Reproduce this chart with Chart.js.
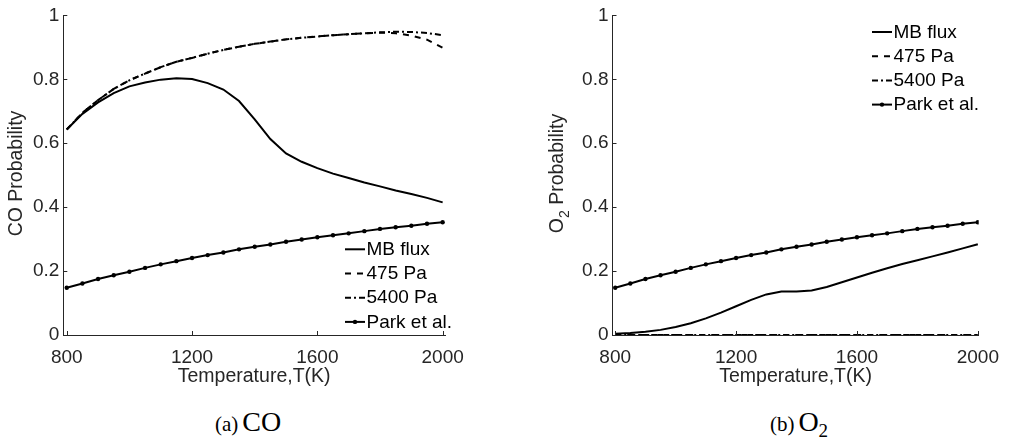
<!DOCTYPE html>
<html>
<head>
<meta charset="utf-8">
<script src="https://cdn.jsdelivr.net/npm/chart.js@4.4.1/dist/chart.umd.min.js"></script>
<style>
  html, body { margin: 0; padding: 0; background: #fff; }
  #wrap { position: relative; width: 1010px; height: 438px; overflow: hidden; }
  .panel { position: absolute; top: 0; width: 505px; height: 395px; }
  .cap { position: absolute; top: 408px; font-family: "Liberation Serif", "DejaVu Serif", serif; color: #000; white-space: nowrap; transform: translateX(-50%); line-height: 1; }
  .cap .lbl { font-size: 21px; }
  .cap .sp { font-size: 28px; }
  .cap sub { font-size: 19px; vertical-align: -6px; line-height: 0; }
</style>
</head>
<body>
<div id="wrap">
  <div class="panel" style="left:0"><canvas id="coChart" width="505" height="395"></canvas></div>
  <div class="panel" style="left:505px"><canvas id="o2Chart" width="505" height="395"></canvas></div>
  <div class="cap" style="left:248px"><span class="lbl">(a)</span> <span class="sp">CO</span></div>
  <div class="cap" style="left:799px"><span class="lbl">(b)</span> <span class="sp">O<sub>2</sub></span></div>
</div>
<script>
// Temperature grid (K)
const temperatureK = [800, 850, 900, 950, 1000, 1050, 1100, 1150, 1200, 1250, 1300, 1350, 1400,
                      1450, 1500, 1550, 1600, 1650, 1700, 1750, 1800, 1850, 1900, 1950, 2000];

// CO reaction probability
const coMBFlux  = [0.643, 0.692, 0.728, 0.757, 0.778, 0.790, 0.799, 0.803, 0.801, 0.788, 0.768, 0.732, 0.675,
                   0.613, 0.568, 0.542, 0.522, 0.505, 0.491, 0.477, 0.465, 0.452, 0.441, 0.429, 0.415];
const co475Pa   = [0.643, 0.695, 0.735, 0.770, 0.797, 0.818, 0.838, 0.855, 0.867, 0.880, 0.892, 0.902, 0.911,
                   0.918, 0.925, 0.930, 0.934, 0.938, 0.941, 0.944, 0.946, 0.944, 0.937, 0.924, 0.899];
const co5400Pa  = [0.643, 0.695, 0.735, 0.770, 0.797, 0.818, 0.838, 0.855, 0.867, 0.880, 0.892, 0.902, 0.911,
                   0.918, 0.925, 0.930, 0.934, 0.938, 0.941, 0.944, 0.947, 0.949, 0.948, 0.945, 0.938];

// Park et al. correlation (same in both panels)
const parkEtAl  = [0.148, 0.161, 0.175, 0.187, 0.198, 0.210, 0.221, 0.231, 0.241, 0.250, 0.258, 0.268, 0.276,
                   0.283, 0.292, 0.299, 0.306, 0.312, 0.318, 0.325, 0.332, 0.337, 0.342, 0.348, 0.353];

// O2 reaction probability
const o2MBFlux  = [0.004, 0.006, 0.010, 0.016, 0.025, 0.037, 0.052, 0.070, 0.090, 0.110, 0.127, 0.136, 0.136,
                   0.139, 0.150, 0.165, 0.180, 0.195, 0.209, 0.222, 0.234, 0.246, 0.258, 0.271, 0.284];
const o2475Pa   = [0, 0, 0, 0, 0, 0, 0, 0, 0, 0, 0, 0, 0, 0, 0, 0, 0, 0, 0, 0, 0, 0, 0, 0, 0];
const o25400Pa  = [0, 0, 0, 0, 0, 0, 0, 0, 0, 0, 0, 0, 0, 0, 0, 0, 0, 0, 0, 0, 0, 0, 0, 0, 0];

// Axis ticks
const xTickValues = [800, 1200, 1600, 2000];
const yTickValues = [0, 0.2, 0.4, 0.6, 0.8, 1];
const yTickLabels = ['0', '0.2', '0.4', '0.6', '0.8', '1'];

const SANS = '"Liberation Sans", Arial, Helvetica, sans-serif';
const AXIS_COLOR = '#262626';

function points(values) {
  return temperatureK.map((t, i) => ({ x: t, y: values[i] }));
}

function seriesSet(mb, p475, p5400) {
  return [
    { label: 'MB flux', data: points(mb), borderColor: '#000', borderWidth: 2, borderDash: [], pointRadius: 0 },
    { label: '475 Pa', data: points(p475), borderColor: '#000', borderWidth: 2, borderDash: [6, 6], pointRadius: 0 },
    { label: '5400 Pa', data: points(p5400), borderColor: '#000', borderWidth: 2, borderDash: [6, 3, 2, 3], pointRadius: 0 },
    { label: 'Park et al.', data: points(parkEtAl), borderColor: '#000', borderWidth: 2, borderDash: [],
      pointRadius: 2.2, pointBorderWidth: 0, pointBackgroundColor: '#000', pointHoverRadius: 2.2 }
  ];
}

// MATLAB-style tick marks pointing into the plot area
const inwardTicks = {
  id: 'inwardTicks',
  afterDatasetsDraw(chart, args, opts) {
    const { ctx, chartArea: a, scales: { x, y } } = chart;
    ctx.save();
    ctx.strokeStyle = AXIS_COLOR;
    ctx.lineWidth = 1;
    ctx.beginPath();
    x.ticks.forEach(t => {
      const px = Math.round(x.getPixelForValue(t.value)) + 0.5;
      ctx.moveTo(px, a.bottom);
      ctx.lineTo(px, a.bottom - opts.length);
    });
    y.ticks.forEach(t => {
      const py = Math.round(y.getPixelForValue(t.value)) + 0.5;
      ctx.moveTo(a.left, py);
      ctx.lineTo(a.left + opts.length, py);
    });
    ctx.stroke();
    ctx.restore();
  }
};

// Rotated y-axis title, with optional subscript pieces
const yTitle = {
  id: 'yTitle',
  afterDraw(chart, args, opts) {
    const { ctx } = chart;
    const main = `${opts.size}px ${SANS}`;
    const sub = `${opts.size * 0.72}px ${SANS}`;
    ctx.save();
    ctx.translate(opts.x, opts.y);
    ctx.rotate(-Math.PI / 2);
    ctx.fillStyle = AXIS_COLOR;
    ctx.textBaseline = 'middle';
    ctx.textAlign = 'left';
    let w = 0;
    opts.parts.forEach(p => { ctx.font = p.sub ? sub : main; w += ctx.measureText(p.text).width; });
    let cx = -w / 2;
    opts.parts.forEach(p => {
      ctx.font = p.sub ? sub : main;
      ctx.fillText(p.text, cx, p.sub ? opts.size * 0.38 : 0);
      cx += ctx.measureText(p.text).width;
    });
    ctx.restore();
  }
};

// Legend drawn inside the axes, samples taken from the dataset styles
const lineLegend = {
  id: 'lineLegend',
  afterDraw(chart, args, opts) {
    const { ctx } = chart;
    ctx.save();
    chart.data.datasets.forEach((ds, i) => {
      const y = opts.y + i * opts.gap;
      ctx.strokeStyle = ds.borderColor;
      ctx.lineWidth = ds.borderWidth;
      ctx.setLineDash(ds.borderDash || []);
      ctx.beginPath();
      ctx.moveTo(opts.x, y);
      ctx.lineTo(opts.x + opts.sample, y);
      ctx.stroke();
      ctx.setLineDash([]);
      if (ds.pointRadius > 0) {
        ctx.fillStyle = ds.pointBackgroundColor;
        ctx.beginPath();
        ctx.arc(opts.x + opts.sample / 2, y, ds.pointRadius, 0, Math.PI * 2);
        ctx.fill();
      }
      ctx.fillStyle = '#000';
      ctx.font = `${opts.size}px ${SANS}`;
      ctx.textBaseline = 'middle';
      ctx.textAlign = 'left';
      ctx.fillText(ds.label, opts.x + opts.sample + 1.5, y + 0.5);
    });
    ctx.restore();
  }
};

function makeChart(id, datasets, cfg) {
  return new Chart(document.getElementById(id), {
    type: 'line',
    data: { datasets },
    plugins: [inwardTicks, yTitle, lineLegend],
    options: {
      responsive: false,
      animation: false,
      events: [],
      layout: { padding: { left: 0, right: cfg.padRight, top: 12, bottom: 0 } },
      elements: { line: { tension: 0, fill: false } },
      scales: {
        x: {
          type: 'linear',
          min: cfg.xMin, max: cfg.xMax,
          afterBuildTicks: s => { s.ticks = xTickValues.map(v => ({ value: v })); },
          afterFit: s => { s.height = 60; },
          grid: { display: false, drawTicks: false },
          border: { display: true, color: AXIS_COLOR, width: 1 },
          ticks: { padding: 11, color: AXIS_COLOR, font: { family: SANS, size: 19 }, maxRotation: 0,
                   callback: v => String(v) },
          title: { display: true, text: 'Temperature,T(K)', color: AXIS_COLOR,
                   font: { family: SANS, size: 19.5 }, padding: { top: 0, bottom: 6.5 } }
        },
        y: {
          type: 'linear',
          min: 0, max: 1,
          afterBuildTicks: s => { s.ticks = yTickValues.map(v => ({ value: v })); },
          afterFit: s => { s.width = cfg.yWidth; },
          grid: { display: false, drawTicks: false },
          border: { display: true, color: AXIS_COLOR, width: 1 },
          ticks: { padding: 4, color: AXIS_COLOR, font: { family: SANS, size: 19 },
                   callback: (v) => yTickLabels[yTickValues.indexOf(+v.toFixed(1))] }
        }
      },
      plugins: {
        legend: { display: false },
        tooltip: { enabled: false },
        inwardTicks: { length: 4 },
        yTitle: { x: cfg.titleX, y: 173.5, size: 19.5, parts: cfg.titleParts },
        lineLegend: { x: cfg.legX, y: cfg.legY, gap: 24.2, sample: 20, size: 19 }
      }
    }
  });
}

makeChart('coChart', seriesSet(coMBFlux, co475Pa, co5400Pa), {
  xMin: 789, xMax: 2007.5, padRight: 60, yWidth: 63.3,
  titleX: 17, titleParts: [{ text: 'CO Probability' }],
  legX: 345, legY: 249.3
});

makeChart('o2Chart', seriesSet(o2MBFlux, o2475Pa, o25400Pa), {
  xMin: 791, xMax: 2003, padRight: 22.3, yWidth: 107.5,
  titleX: 52.5, titleParts: [{ text: 'O' }, { text: '2', sub: true }, { text: ' Probability' }],
  legX: 367, legY: 32
});
</script>
</body>
</html>
